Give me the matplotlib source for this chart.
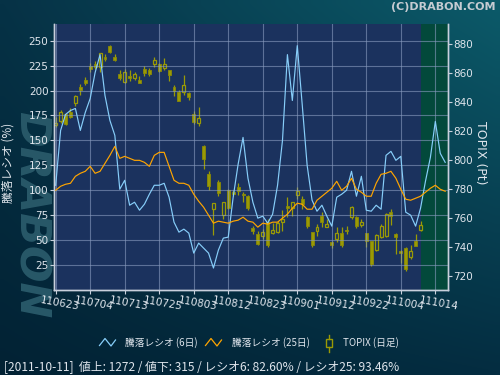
import numpy as np
import matplotlib.pyplot as plt
from matplotlib.lines import Line2D
from matplotlib.patches import Rectangle
import matplotlib.transforms as mtransforms

plt.rcParams['font.family'] = ['DejaVu Sans', 'Noto Sans CJK JP']

# 目盛りの日付 (7営業日ごと)
tick_labels = ['110623', '110704', '110713', '110725', '110803', '110812',
               '110823', '110901', '110912', '110922', '111004', '111014']

# TOPIX 日足 (110623 - 111011)
topix_open = [824.1, 826.7, 831.5, 832.8, 839.5, 850.0, 855.5, 864.5, 866.0, 864.0,
              871.2, 878.7, 870.8, 859.3, 853.6, 858.2, 856.3, 855.2, 862.7, 862.2,
              866.2, 866.1, 863.5, 862.1, 850.6, 846.7, 846.8, 846.3, 831.6, 825.3,
              809.8, 790.0, 766.5, 784.5, 762.0, 779.0, 777.8, 781.6, 776.5, 775.4,
              753.0, 749.0, 747.8, 757.0, 749.9, 750.1, 757.0, 768.5, 767.0, 776.1,
              773.1, 760.9, 750.1, 751.3, 761.6, 754.0, 743.2, 745.5, 749.4, 751.7,
              760.5, 760.9, 755.4, 749.4, 744.0, 738.0, 746.7, 747.6, 763.9, 748.9,
              737.5, 739.3, 733.0, 743.9, 751.7]
topix_high = [829.4, 834.5, 832.5, 836.0, 845.0, 852.5, 857.5, 866.8, 868.0, 874.0,
              873.0, 879.5, 873.0, 862.0, 863.0, 862.0, 860.5, 858.2, 865.0, 863.3,
              871.3, 866.7, 870.2, 862.3, 851.7, 848.0, 858.6, 847.2, 833.6, 836.2,
              810.0, 792.6, 770.5, 786.0, 771.0, 780.0, 779.0, 784.0, 777.7, 776.0,
              754.7, 751.3, 752.4, 759.3, 756.3, 758.2, 765.5, 774.2, 771.0, 781.1,
              775.4, 761.6, 750.5, 756.0, 764.0, 759.3, 744.0, 753.6, 753.6, 754.7,
              768.5, 761.6, 759.3, 749.6, 744.4, 749.0, 756.0, 763.2, 766.2, 749.4,
              738.0, 739.8, 741.0, 749.0, 758.2]
topix_low = [822.5, 825.7, 824.0, 829.0, 837.0, 844.5, 852.0, 861.0, 862.8, 861.0,
             868.0, 873.5, 868.0, 855.0, 853.0, 854.5, 855.0, 852.9, 858.0, 857.7,
             864.0, 860.5, 861.8, 854.8, 844.4, 840.5, 845.0, 841.5, 825.0, 823.6,
             794.0, 779.3, 748.0, 775.0, 759.3, 766.0, 775.4, 776.0, 771.0, 765.5,
             749.0, 741.6, 745.5, 739.8, 749.0, 749.4, 751.3, 760.5, 761.6, 773.1,
             766.2, 753.0, 740.2, 747.8, 754.0, 753.6, 739.3, 743.2, 740.2, 749.0,
             759.3, 753.0, 753.6, 740.2, 727.0, 737.0, 746.0, 746.7, 755.4, 735.2,
             728.7, 723.7, 731.7, 740.5, 750.8]
topix_close = [825.5, 832.9, 825.0, 829.8, 844.0, 848.5, 853.2, 863.0, 864.0, 873.5,
               869.5, 874.2, 869.2, 856.7, 860.4, 856.7, 859.3, 853.4, 860.2, 859.5,
               869.2, 861.3, 866.2, 858.6, 847.8, 841.0, 851.7, 843.7, 826.0, 828.7,
               800.6, 782.3, 770.0, 777.3, 770.7, 767.0, 776.5, 778.8, 775.5, 767.0,
               751.3, 742.2, 750.1, 741.0, 751.7, 756.3, 759.3, 766.9, 770.8, 778.8,
               769.7, 754.7, 741.0, 754.0, 757.0, 756.0, 741.6, 749.4, 741.6, 750.8,
               767.8, 754.7, 757.0, 744.4, 728.3, 748.5, 754.5, 762.8, 761.0, 747.1,
               735.9, 724.8, 737.0, 740.9, 755.2]

# 騰落レシオ (%)
ratio6 = [105, 160, 176, 180, 182, 160, 178, 192, 218, 236,
          195, 170, 155, 101, 110, 85, 88, 80, 86, 96,
          105, 105, 107, 93, 68, 58, 61, 57, 37, 47,
          42, 37, 22, 40, 52, 53, 93, 126, 153, 112,
          88, 72, 74, 67, 76, 105, 150, 236, 190, 245,
          186, 125, 90, 79, 85, 74, 64, 93, 96, 100,
          119, 94, 114, 80, 79, 85, 81, 135, 139, 130,
          134, 78, 75, 64, 82, 109, 133, 169, 137, 128]
ratio25 = [100, 104, 106, 107, 114, 117, 119, 124, 117, 119,
           127, 135, 144, 132, 134, 132, 130, 130, 128, 124,
           135, 138, 138, 124, 110, 107, 107, 105, 96, 89,
           83, 75, 67, 69, 68, 67, 69, 70, 73, 69,
           68, 63, 67, 66, 68, 68, 72, 76, 82, 87,
           86, 81, 81, 90, 94, 98, 102, 109, 100, 104,
           112, 101, 98, 94, 94, 107, 116, 117, 119, 112,
           101, 91, 90, 92, 94, 98, 102, 105, 101, 99]

latest = 74  # 111011

txt_col = '#dfe5ec'
candle_col = '#9a9a05'
candle_edge = '#85850a'
jp = ['Noto Sans CJK JP', 'DejaVu Sans']

fig = plt.figure(figsize=(5, 3.75), dpi=100)

# 背景グラデーション
bg = fig.add_axes([0, 0, 1, 1], zorder=-10)
tl = np.array([6, 50, 70]) / 255
tr = np.array([12, 90, 105]) / 255
bl = np.array([2, 34, 52]) / 255
br = np.array([4, 45, 65]) / 255
u = np.linspace(0, 1, 64)[None, :, None]
v = np.linspace(0, 1, 48)[:, None, None]
grad = (1 - v) * ((1 - u) * tl + u * tr) + v * ((1 - u) * bl + u * br)
bg.imshow(grad, aspect='auto', extent=[0, 1, 0, 1], origin='upper', interpolation='bilinear')
bg.axis('off')

# 透かし
fig.text(0.062, 0.427, 'DRABON', rotation=-90, fontsize=31, fontweight='bold',
         fontstyle='italic', color='#285868', ha='center', va='center', zorder=-5)

ax = fig.add_axes([0.108, 0.2267, 0.788, 0.7093])
ax2 = ax.twinx()
ax.set_zorder(2)
ax2.set_zorder(1)
ax.patch.set_visible(False)
ax2.patch.set_visible(True)
ax2.set_facecolor('#1b325e')

# ローソク足 (TOPIX)
xs = np.arange(len(topix_close))
o = np.array(topix_open)
c = np.array(topix_close)
top = np.maximum(o, c)
bot = np.minimum(o, c)
ax2.axvspan(latest + 0.1, 80, color='#03493b', lw=0)
ax2.vlines(xs, top, topix_high, color=candle_col, lw=0.9)
ax2.vlines(xs, topix_low, bot, color=candle_col, lw=0.9)
up = c >= o
ax2.bar(xs[up], (top - bot)[up], bottom=bot[up], width=0.6,
        facecolor='none', edgecolor=candle_col, lw=0.9)
ax2.bar(xs[~up], (top - bot)[~up], bottom=bot[~up], width=0.6,
        facecolor=candle_col, edgecolor=candle_edge, lw=0.7)

# 騰落レシオ
ax.plot(np.arange(len(ratio6)), ratio6, color='#87cefa', lw=0.85)
ax.plot(np.arange(len(ratio25)), ratio25, color='#ffa500', lw=0.85)

ax.set_xlim(-0.34, 79.57)
ax.set_ylim(0, 266.7)
ax2.set_ylim(710.3, 893.8)

ax.set_xticks(np.arange(0, 78, 7))
ax.set_xticklabels(tick_labels, rotation=-10, fontsize=7.5, color=txt_col)
ax.set_yticks(np.arange(25, 251, 25))
ax2.set_yticks(np.arange(720, 881, 20))
ax.grid(True, color='#8a9cc0', lw=0.8, alpha=0.6)
ax.tick_params(axis='y', colors='#c8d0dc', labelcolor=txt_col, labelsize=7.5, length=3, pad=1)
ax.tick_params(axis='x', colors='#c8d0dc', labelcolor=txt_col, length=3, pad=1)
ax2.tick_params(axis='y', colors='#c8d0dc', labelcolor=txt_col, labelsize=7.5, length=3, pad=1)

offset = mtransforms.ScaledTranslation(4 / 100, 0, fig.dpi_scale_trans)
for lbl in ax.get_xticklabels():
    lbl.set_transform(lbl.get_transform() + offset)

for a in (ax, ax2):
    a.spines['top'].set_visible(False)
    for s in ('left', 'right', 'bottom'):
        a.spines[s].set_color('#c8d0dc')
        a.spines[s].set_linewidth(1)

ax.set_ylabel('騰落レシオ (%)', color=txt_col, fontsize=8.5, family=jp)
ax.yaxis.set_label_coords(-0.1, 0.477)
ax2.set_ylabel('TOPIX (Pt)', color=txt_col, fontsize=9, rotation=-90)
ax2.yaxis.set_label_coords(1.1, 0.515)

fig.text(0.992, 0.98, '(C)DRABON.COM', ha='right', va='center', fontsize=8,
         fontweight='bold', color='#c5cbd2')

# 凡例
def fx(px):
    return px / 500

def fy(py):
    return 1 - py / 375

fig.add_artist(Line2D([fx(99.5), fx(105), fx(111), fx(115.5)],
                      [fy(345.5), fy(338.5), fy(346), fy(340)],
                      color='#87cefa', lw=0.9, transform=fig.transFigure))
fig.text(fx(125), fy(343), '騰落レシオ (6日)', color=txt_col, fontsize=7, va='center', family=jp)
fig.add_artist(Line2D([fx(205.5), fx(211), fx(217), fx(221.5)],
                      [fy(345.5), fy(338.5), fy(346), fy(340)],
                      color='#ffa500', lw=0.9, transform=fig.transFigure))
fig.text(fx(232), fy(343), '騰落レシオ (25日)', color=txt_col, fontsize=7, va='center', family=jp)
fig.add_artist(Rectangle((fx(326), fy(347)), fx(6), 8 / 375, fill=False,
                         edgecolor=candle_col, lw=1, transform=fig.transFigure))
fig.add_artist(Line2D([fx(329), fx(329)], [fy(335), fy(339)], color=candle_col, lw=1,
                      transform=fig.transFigure))
fig.add_artist(Line2D([fx(329), fx(329)], [fy(347), fy(352)], color=candle_col, lw=1,
                      transform=fig.transFigure))
fig.text(fx(343), fy(343), 'TOPIX (日足)', color=txt_col, fontsize=7, va='center', family=jp)

fig.text(fx(4), fy(368), '[2011-10-11]  値上: 1272 / 値下: 315 / レシオ6: 82.60% / レシオ25: 93.46%',
         color=txt_col, fontsize=8.6, va='center', family=jp)

fig.savefig('out.png', dpi=100)
